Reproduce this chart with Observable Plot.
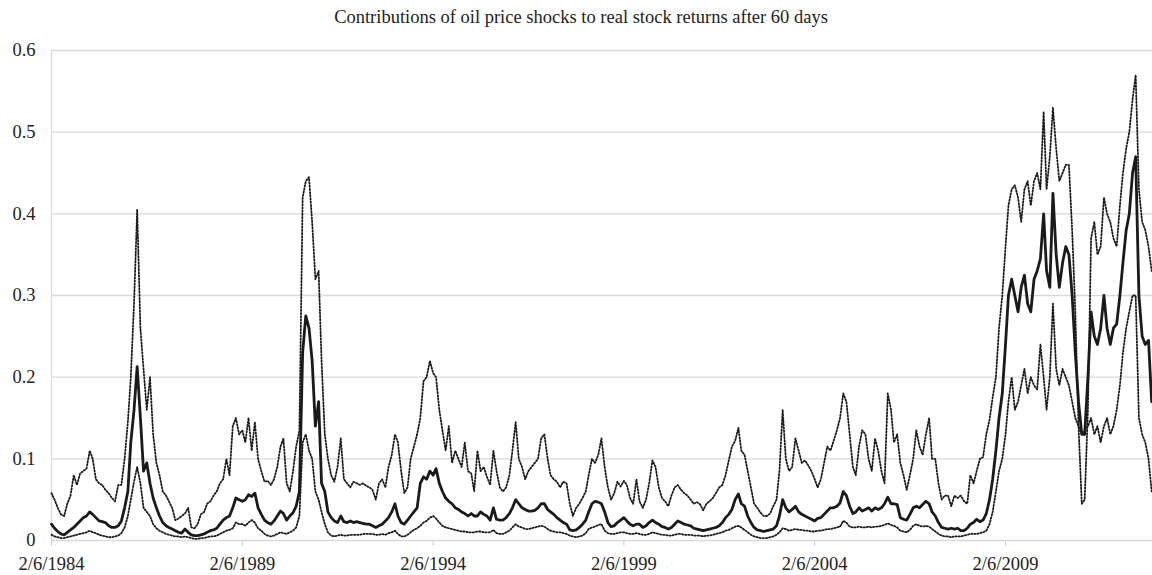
<!DOCTYPE html>
<html><head><meta charset="utf-8">
<script src="https://cdn.jsdelivr.net/npm/d3@7"></script>
<script src="https://cdn.jsdelivr.net/npm/@observablehq/plot@0.6"></script>
<style>
body{margin:0;background:#fff;font-family:"Liberation Serif","Times New Roman",serif;}
#title{position:relative;height:30px;line-height:34px;font-size:18.5px;color:#222;white-space:nowrap}
#title span{position:absolute;left:581px;transform:translateX(-50%)}
svg text{font-family:"Liberation Serif","Times New Roman",serif !important;}
</style></head><body>
<div id="title"><span id="tt"></span></div>
<div id="chart"></div>
<script>
const title = "Contributions of oil price shocks to real stock returns after 60 days";
// monthly readings, first value = 2/6/1984
const startDate = "1984-02-06";
const endDate = "2012-12-14";
const upper = [
0.058,0.05,0.04,0.032,0.03,0.045,0.055,0.08,0.068,0.082,0.085,0.088,0.11,0.1,0.075,0.07,0.068,0.062,0.058,0.052,
0.048,0.068,0.068,0.1,0.145,0.2,0.29,0.405,0.26,0.21,0.16,0.2,0.13,0.095,0.08,0.06,0.055,0.048,0.04,0.025,
0.027,0.03,0.033,0.04,0.016,0.015,0.02,0.032,0.035,0.045,0.048,0.055,0.06,0.07,0.075,0.1,0.08,0.14,
0.15,0.13,0.135,0.12,0.15,0.11,0.145,0.1,0.085,0.072,0.073,0.068,0.075,0.09,0.115,0.125,0.07,0.06,0.085,0.115,
0.135,0.42,0.44,0.445,0.39,0.32,0.33,0.22,0.13,0.1,0.08,0.072,0.09,0.125,0.075,0.07,0.065,0.072,0.07,0.068,
0.07,0.067,0.065,0.062,0.05,0.07,0.075,0.065,0.09,0.105,0.13,0.12,0.085,0.058,0.065,0.1,0.115,0.13,
0.15,0.195,0.2,0.22,0.205,0.2,0.16,0.135,0.11,0.14,0.095,0.11,0.1,0.09,0.12,0.085,0.082,0.06,0.11,0.085,
0.09,0.078,0.068,0.11,0.085,0.065,0.06,0.065,0.08,0.11,0.145,0.1,0.09,0.075,0.085,0.09,0.095,0.1,0.125,0.13,
0.1,0.08,0.075,0.072,0.065,0.072,0.07,0.045,0.03,0.04,0.045,0.052,0.06,0.08,0.1,0.095,0.105,0.125,
0.09,0.065,0.05,0.058,0.072,0.066,0.073,0.068,0.052,0.045,0.075,0.048,0.04,0.05,0.07,0.098,0.09,0.065,0.052,0.048,
0.042,0.055,0.065,0.068,0.062,0.058,0.055,0.05,0.045,0.047,0.044,0.037,0.045,0.048,0.052,0.058,0.065,0.068,0.08,0.098,
0.115,0.122,0.138,0.11,0.105,0.085,0.065,0.045,0.04,0.034,0.03,0.03,0.033,0.042,0.05,0.085,0.16,0.1,
0.085,0.09,0.125,0.11,0.095,0.098,0.092,0.085,0.075,0.065,0.075,0.095,0.115,0.11,0.122,0.135,0.15,0.18,0.17,0.13,
0.09,0.08,0.115,0.135,0.13,0.1,0.085,0.125,0.11,0.085,0.07,0.18,0.16,0.12,0.13,0.095,0.08,0.062,0.08,0.1,
0.135,0.115,0.105,0.13,0.15,0.1,0.1,0.07,0.05,0.055,0.055,0.042,0.055,0.052,0.055,0.048,0.045,
0.08,0.07,0.085,0.1,0.102,0.13,0.148,0.175,0.2,0.26,0.3,0.36,0.41,0.43,0.435,0.42,0.39,0.43,0.44,0.41,
0.44,0.45,0.43,0.525,0.43,0.47,0.53,0.48,0.44,0.45,0.46,0.46,0.38,0.28,0.14,0.045,0.05,0.16,0.37,0.39,
0.35,0.36,0.42,0.4,0.39,0.37,0.36,0.41,0.45,0.48,0.5,0.54,0.57,0.43,0.39,0.38,0.36,0.33
];
const median = [
0.02,0.015,0.011,0.008,0.007,0.01,0.013,0.016,0.02,0.024,0.028,0.03,0.035,0.032,0.028,0.024,0.023,0.022,0.018,0.016,
0.016,0.018,0.024,0.04,0.06,0.12,0.16,0.213,0.15,0.085,0.095,0.07,0.052,0.04,0.03,0.022,0.018,0.016,0.014,0.012,
0.01,0.009,0.014,0.01,0.007,0.006,0.006,0.007,0.008,0.01,0.012,0.013,0.015,0.02,0.025,0.028,0.03,0.04,
0.052,0.05,0.048,0.05,0.056,0.054,0.058,0.04,0.032,0.025,0.022,0.02,0.024,0.03,0.036,0.033,0.025,0.03,0.034,0.042,
0.06,0.23,0.275,0.26,0.22,0.14,0.17,0.07,0.06,0.035,0.028,0.024,0.022,0.03,0.023,0.022,0.024,0.022,0.023,0.022,
0.021,0.02,0.02,0.018,0.016,0.018,0.02,0.024,0.028,0.035,0.045,0.03,0.022,0.02,0.025,0.03,0.035,0.04,
0.07,0.078,0.075,0.085,0.08,0.088,0.07,0.06,0.052,0.048,0.045,0.04,0.038,0.035,0.033,0.03,0.033,0.03,0.03,0.035,
0.032,0.03,0.025,0.04,0.026,0.025,0.025,0.028,0.033,0.04,0.05,0.045,0.04,0.038,0.036,0.036,0.037,0.04,0.045,0.045,
0.038,0.035,0.032,0.028,0.025,0.022,0.02,0.013,0.012,0.013,0.016,0.02,0.025,0.035,0.045,0.048,0.047,0.045,
0.035,0.022,0.017,0.018,0.022,0.025,0.028,0.024,0.02,0.018,0.02,0.02,0.016,0.018,0.022,0.025,0.022,0.02,0.017,0.016,
0.014,0.016,0.02,0.024,0.022,0.02,0.019,0.018,0.015,0.014,0.013,0.012,0.013,0.014,0.015,0.016,0.018,0.022,0.028,0.032,
0.038,0.05,0.057,0.045,0.042,0.03,0.022,0.016,0.013,0.012,0.011,0.012,0.013,0.014,0.018,0.03,0.05,0.04,
0.035,0.038,0.042,0.035,0.032,0.03,0.028,0.026,0.024,0.027,0.028,0.032,0.036,0.04,0.04,0.042,0.046,0.06,0.055,0.042,
0.033,0.035,0.04,0.036,0.038,0.04,0.036,0.04,0.038,0.04,0.045,0.053,0.045,0.045,0.044,0.028,0.026,0.025,0.032,0.04,
0.042,0.04,0.044,0.048,0.045,0.035,0.03,0.022,0.016,0.015,0.014,0.015,0.014,0.015,0.012,0.012,0.015,
0.02,0.022,0.026,0.023,0.025,0.033,0.05,0.075,0.11,0.15,0.18,0.24,0.3,0.32,0.3,0.28,0.31,0.325,0.29,0.28,
0.32,0.33,0.345,0.4,0.33,0.31,0.425,0.35,0.31,0.34,0.36,0.35,0.3,0.23,0.17,0.13,0.13,0.2,0.28,0.25,
0.24,0.26,0.3,0.26,0.24,0.26,0.265,0.3,0.34,0.38,0.4,0.45,0.47,0.3,0.25,0.24,0.245,0.17
];
const lower = [
0.007,0.005,0.004,0.003,0.003,0.004,0.005,0.006,0.007,0.008,0.009,0.01,0.012,0.01,0.009,0.007,0.006,0.005,0.004,0.004,
0.005,0.006,0.009,0.016,0.03,0.05,0.072,0.09,0.07,0.04,0.035,0.03,0.02,0.015,0.012,0.01,0.008,0.007,0.006,0.005,
0.005,0.004,0.005,0.004,0.003,0.002,0.002,0.003,0.003,0.004,0.005,0.005,0.006,0.008,0.01,0.012,0.013,0.015,
0.022,0.02,0.02,0.018,0.022,0.025,0.022,0.015,0.012,0.008,0.006,0.005,0.006,0.008,0.01,0.009,0.008,0.01,0.012,0.016,
0.03,0.12,0.13,0.11,0.1,0.06,0.05,0.035,0.02,0.01,0.006,0.005,0.006,0.007,0.006,0.006,0.007,0.007,0.007,0.007,
0.008,0.008,0.008,0.008,0.007,0.007,0.008,0.007,0.009,0.01,0.012,0.008,0.005,0.005,0.007,0.01,0.013,0.015,
0.018,0.022,0.024,0.028,0.03,0.027,0.022,0.018,0.016,0.015,0.014,0.013,0.012,0.011,0.011,0.01,0.01,0.01,0.011,0.011,
0.01,0.01,0.01,0.013,0.009,0.008,0.008,0.01,0.012,0.016,0.02,0.017,0.016,0.014,0.014,0.015,0.016,0.017,0.018,0.017,
0.014,0.012,0.011,0.01,0.01,0.009,0.008,0.006,0.005,0.004,0.005,0.006,0.009,0.014,0.016,0.017,0.019,0.02,
0.012,0.009,0.008,0.008,0.009,0.01,0.01,0.009,0.008,0.008,0.009,0.008,0.007,0.007,0.008,0.01,0.009,0.008,0.007,0.007,
0.006,0.006,0.007,0.008,0.008,0.007,0.007,0.007,0.006,0.006,0.006,0.005,0.006,0.006,0.007,0.008,0.009,0.01,0.012,0.013,
0.015,0.017,0.018,0.016,0.013,0.01,0.007,0.005,0.004,0.003,0.003,0.003,0.004,0.005,0.007,0.01,0.015,0.014,
0.012,0.013,0.014,0.013,0.013,0.012,0.012,0.011,0.011,0.012,0.012,0.013,0.014,0.014,0.015,0.016,0.017,0.024,0.022,0.017,
0.016,0.016,0.017,0.016,0.016,0.017,0.016,0.017,0.017,0.018,0.019,0.021,0.019,0.018,0.016,0.012,0.011,0.01,0.013,0.018,
0.02,0.018,0.017,0.018,0.017,0.014,0.011,0.008,0.006,0.005,0.005,0.004,0.005,0.005,0.005,0.006,0.007,
0.008,0.008,0.008,0.009,0.01,0.012,0.02,0.035,0.06,0.085,0.1,0.13,0.17,0.2,0.16,0.17,0.19,0.21,0.18,0.2,
0.19,0.185,0.24,0.2,0.16,0.2,0.29,0.21,0.19,0.21,0.2,0.19,0.17,0.15,0.14,0.13,0.135,0.14,0.15,0.13,
0.14,0.12,0.14,0.15,0.13,0.14,0.16,0.19,0.23,0.26,0.28,0.3,0.3,0.15,0.13,0.12,0.1,0.06
];
const tickDates = ["1984-02-06","1989-02-06","1994-02-06","1999-02-06","2004-02-06","2009-02-06"];
const tickLabels = ["2/6/1984","2/6/1989","2/6/1994","2/6/1999","2/6/2004","2/6/2009"];
const yTicks = [0, 0.1, 0.2, 0.3, 0.4, 0.5, 0.6];
const yLabels = ["0", "0.1", "0.2", "0.3", "0.4", "0.5", "0.6"];

document.getElementById("tt").textContent = title;
const t0 = new Date(startDate + "T00:00:00Z");
const rows = vals => vals.map((v, i) => ({date: d3.utcMonth.offset(t0, i), value: v}));
const xTicks = tickDates.map(d => new Date(d + "T00:00:00Z"));

const chart = Plot.plot({
  width: 1152, height: 545,
  marginTop: 20, marginBottom: 35, marginLeft: 51, marginRight: 0,
  style: {fontFamily: "'Liberation Serif','Times New Roman',serif", fontSize: "18.5px", color: "#222", background: "#fff", overflow: "visible"},
  x: {type: "utc", domain: [t0, new Date(endDate + "T00:00:00Z")]},
  y: {domain: [0, 0.6]},
  marks: [
    Plot.ruleY(yTicks, {stroke: "#d9d9d9", strokeWidth: 1.3}),
    Plot.ruleX([t0], {stroke: "#d9d9d9", strokeWidth: 1.3}),
    Plot.axisX({ticks: xTicks, tickFormat: (d, i) => tickLabels[i], tickSize: 6, tickPadding: 10, stroke: "#d0d0d0", fill: "#222", label: null}),
    Plot.axisY({ticks: yTicks, tickFormat: (d, i) => yLabels[i], tickSize: 0, tickPadding: 16, fill: "#222", label: null}),
    Plot.line(rows(upper), {x: "date", y: "value", stroke: "#1a1a1a", strokeWidth: 1.8, strokeDasharray: "1.3,1.9"}),
    Plot.line(rows(lower), {x: "date", y: "value", stroke: "#1a1a1a", strokeWidth: 1.8, strokeDasharray: "1.3,1.9"}),
    Plot.line(rows(median), {x: "date", y: "value", stroke: "#1a1a1a", strokeWidth: 2.8})
  ]
});
document.getElementById("chart").appendChild(chart);
</script>
</body></html>
